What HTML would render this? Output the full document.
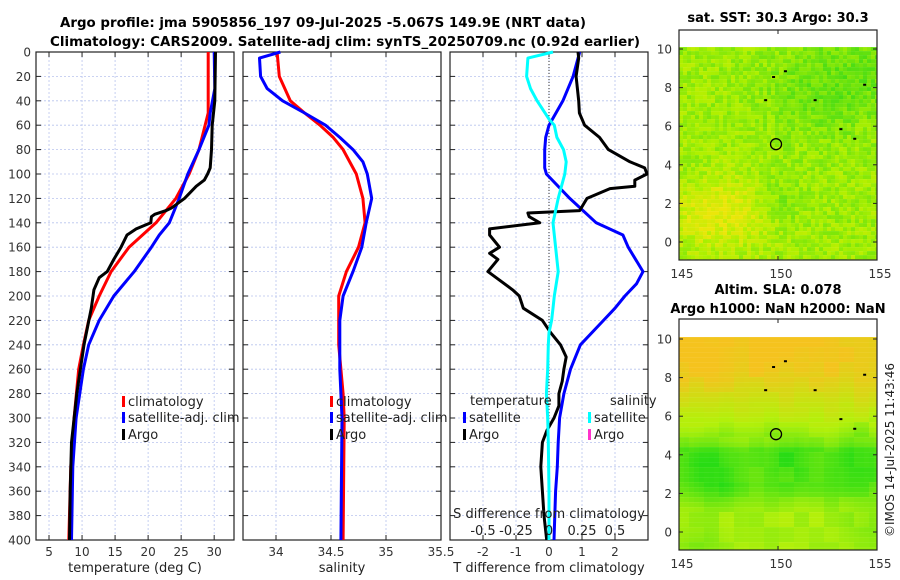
<!DOCTYPE html>
<html><head><meta charset="utf-8"><style>
html,body{margin:0;padding:0;background:#fff;}
svg{display:block;font-family:"DejaVu Sans","Liberation Sans",sans-serif;}
</style></head><body>
<svg id="c" width="900" height="580" viewBox="0 0 900 580" xmlns="http://www.w3.org/2000/svg">
<text x="323" y="27" font-size="13" font-weight="bold" text-anchor="middle" textLength="526" lengthAdjust="spacingAndGlyphs">Argo profile: jma 5905856_197 09-Jul-2025 -5.067S 149.9E (NRT data)</text>
<text x="345" y="46" font-size="13" font-weight="bold" text-anchor="middle" textLength="590" lengthAdjust="spacingAndGlyphs">Climatology: CARS2009. Satellite-adj clim: synTS_20250709.nc (0.92d earlier)</text>
<text x="778" y="22" font-size="13" font-weight="bold" text-anchor="middle">sat. SST: 30.3 Argo: 30.3</text>
<text x="778" y="294" font-size="13" font-weight="bold" text-anchor="middle">Altim. SLA: 0.078</text>
<text x="778" y="313" font-size="13" font-weight="bold" text-anchor="middle">Argo h1000: NaN h2000: NaN</text>
<text transform="translate(894,450) rotate(-90)" font-size="12" text-anchor="middle" fill="#222">©IMOS 14-Jul-2025 11:43:46</text>
<g id="plots"></g>
</svg>
<script>
// ---- data ----
const depthTicks=[0,20,40,60,80,100,120,140,160,180,200,220,240,260,280,300,320,340,360,380,400];
const tTicks=[5,10,15,20,25,30];
const sTicks=[34,34.5,35,35.5];
const dTTicks=[-2,-1,0,1,2];
const dSTickLabels=["-0.5","-0.25","0","0.25","0.5"];
const dSTicks=[-0.5,-0.25,0,0.25,0.5];
// temperature
const tClimDepth=[0,50,80,100,120,140,160,180,200,220,240,260,300,340,400];
const tClim=[29.1,29.1,27.7,26.2,24.2,21.2,17.1,14.4,12.6,11,10.2,9.5,8.8,8.3,8.0];
const tSatDepth=[0,30,50,60,80,100,120,140,150,160,180,200,220,240,260,300,340,400];
const tSat=[30,30.1,29.4,29.2,27.7,26,24.7,23.2,21.7,20.5,17.9,14.8,12.6,11,10.2,9.1,8.6,8.4];
const tArgoDepth=[0,40,60,80,95,100,105,110,120,128,130,133,135,140,145,150,160,170,180,185,195,210,240,280,320,360,400];
const tArgo=[30.2,30.1,29.7,29.6,29.4,29.0,28.5,27.3,25.5,23.5,22.7,21,20.5,20.4,18.2,16.8,15.9,14.8,13.8,12.6,11.8,11.4,10.3,9.2,8.4,8.2,8.1];
// salinity
const sClimDepth=[0,20,40,50,60,70,80,100,120,140,160,180,200,240,280,300,400];
const sClim=[34.01,34.03,34.13,34.26,34.4,34.52,34.61,34.73,34.79,34.81,34.75,34.64,34.57,34.57,34.61,34.62,34.61];
const sSatDepth=[0,5,20,30,40,50,60,70,80,90,100,120,140,160,180,200,220,260,300,400];
const sSat=[34.04,33.85,33.86,33.92,34.06,34.26,34.45,34.58,34.7,34.79,34.83,34.87,34.82,34.78,34.7,34.61,34.58,34.58,34.6,34.59];
// differences
const dTSatDepth=[0,20,40,60,70,80,95,100,120,140,150,160,180,190,200,210,220,240,260,280,300,320,340,360,400];
const dTSat=[0.93,0.73,0.42,0,-0.1,-0.13,-0.13,-0.08,0.63,1.43,2.24,2.4,2.85,2.65,2.3,2.0,1.65,0.95,0.65,0.45,0.32,0.28,0.25,0.2,0.15];
const dTArgoDepth=[0,5,20,40,50,60,70,80,90,95,100,105,110,112,120,125,130,132,135,140,145,150,160,165,170,180,185,195,200,210,220,230,240,250,260,270,280,290,300,310,320,340,360,380,400];
const dTArgo=[0.88,0.9,0.82,0.9,0.92,1.08,1.53,1.8,2.45,2.9,2.97,2.6,2.6,1.85,1.15,1.04,0.93,-0.64,-0.6,-0.28,-1.8,-1.8,-1.5,-1.8,-1.55,-1.85,-1.6,-1.1,-0.9,-0.78,-0.2,0.05,0.35,0.52,0.45,0.4,0.3,0.3,0.15,-0.06,-0.2,-0.25,-0.2,-0.15,-0.07];
const dSSatDepth=[0,5,20,30,40,55,60,70,80,90,100,120,140,160,180,200,210,220,230,240,260,280,300,320,360,400];
const dSSat=[0.03,-0.16,-0.17,-0.14,-0.09,0,0.04,0.06,0.11,0.13,0.12,0.07,0.03,0.05,0.07,0.04,0.03,0.02,0,-0.005,-0.01,-0.02,-0.01,-0.005,0,0];

const NS="http://www.w3.org/2000/svg";
const G=document.getElementById('plots');
function mk(tag,attrs,parent){const e=document.createElementNS(NS,tag);for(const k in attrs)e.setAttribute(k,attrs[k]);(parent||G).appendChild(e);return e;}
const Y0=52,Y1=540;
const yD=d=>Y0+(d-0)*(Y1-Y0)/400;

function panel(name,x0,x1,vmin,vmax,xt,xtl,showY){
  const g=mk('g',{});
  
  
  const xs=v=>x0+(v-vmin)*(x1-x0)/(vmax-vmin);
  depthTicks.forEach(d=>{
    const l=mk('line',{x1:x0,x2:x1,y1:yD(d),y2:yD(d),stroke:'#b8c4ee','stroke-width':0.8,'stroke-dasharray':'2,2'},g);
    
    
    mk('line',{x1:x0,x2:x0+5,y1:yD(d),y2:yD(d),stroke:'#222'},g);
    mk('line',{x1:x1-5,x2:x1,y1:yD(d),y2:yD(d),stroke:'#222'},g);
    if(showY){const t=mk('text',{x:x0-5,y:yD(d)+4.5,'font-size':12,'text-anchor':'end',fill:'#333'},g);t.textContent=d;
      
      }
  });
  xt.forEach((v,i)=>{
    mk('line',{x1:xs(v),x2:xs(v),y1:Y0,y2:Y1,stroke:'#b8c4ee','stroke-width':0.8,'stroke-dasharray':'2,2'},g);
    mk('line',{x1:xs(v),x2:xs(v),y1:Y1,y2:Y1-5,stroke:'#222'},g);
    mk('line',{x1:xs(v),x2:xs(v),y1:Y0,y2:Y0+5,stroke:'#222'},g);
    const t=mk('text',{x:xs(v),y:556,'font-size':12,'text-anchor':'middle',fill:'#333'},g);t.textContent=xtl[i];
    
    
  });
  mk('rect',{x:x0,y:Y0,width:x1-x0,height:Y1-Y0,fill:'none',stroke:'#222','stroke-width':1.2},g);
  return {g,xs};
}
function line(p,vals,deps,color,name,xs){
  const pts=vals.map((v,i)=>xs(v).toFixed(1)+','+yD(deps[i]).toFixed(1)).join(' ');
  const e=mk('polyline',{points:pts,fill:'none',stroke:color,'stroke-width':3,'stroke-linejoin':'round'},p.g);
  
  
}
function txt(p,x,y,s,name,anchor,size){const t=mk('text',{x:x,y:y,'font-size':size||12,'text-anchor':anchor||'start',fill:'#222'},p.g);t.textContent=s;
  
  return t;}
function leg(p,x,y,color,s,name){
  const r=mk('rect',{x:x,y:y-9,width:3,height:11,fill:color},p.g);
  
  
  txt(p,x+6,y+1,s,name,'start',13);
}

// panel 1 temperature
const p1=panel('temperature-panel',36,234,3.03,33,tTicks,tTicks.map(String),true);
line(p1,tClim,tClimDepth,'#ff0000','climatology-temperature-line',p1.xs);
line(p1,tSat,tSatDepth,'#0000ff','satellite-temperature-line',p1.xs);
line(p1,tArgo,tArgoDepth,'#000000','argo-temperature-line',p1.xs);
txt(p1,135,572,'temperature (deg C)','temperature-axis-title','middle',13);
leg(p1,122,405,'#ff0000','climatology','legend-climatology');
leg(p1,122,421,'#0000ff','satellite-adj. clim','legend-satellite');
leg(p1,122,438,'#000000','Argo','legend-argo');

// panel 2 salinity
const p2=panel('salinity-panel',243,441,33.7,35.5,sTicks,sTicks.map(String),false);
line(p2,sClim,sClimDepth,'#ff0000','climatology-salinity-line',p2.xs);
line(p2,sSat,sSatDepth,'#0000ff','satellite-salinity-line',p2.xs);
txt(p2,342,572,'salinity','salinity-axis-title','middle',13);
leg(p2,330,405,'#ff0000','climatology','legend-s-climatology');
leg(p2,330,421,'#0000ff','satellite-adj. clim','legend-s-satellite');
leg(p2,330,438,'#000000','Argo','legend-s-argo');

// panel 3 differences
const p3=panel('difference-panel',450,648,-3,3,dTTicks,dTTicks.map(String),false);
const xsS=v=>p3.xs(v*4);
const zl=mk('line',{x1:p3.xs(0),x2:p3.xs(0),y1:Y0,y2:Y1,stroke:'#333','stroke-dasharray':'1,2'},p3.g);


line(p3,dTSat,dTSatDepth,'#0000ff','satellite-t-diff-line',p3.xs);
line(p3,dTArgo,dTArgoDepth,'#000000','argo-t-diff-line',p3.xs);
line(p3,dSSat,dSSatDepth,'#00ffff','satellite-s-diff-line',xsS);
txt(p3,549,572,'T difference from climatology','t-diff-axis-title','middle',13);
txt(p3,549,518,'S difference from climatology','s-diff-axis-title','middle',13);
dSTicks.forEach((v,i)=>{txt(p3,xsS(v),535,dSTickLabels[i],'s-diff-tick-label','middle',13);});
txt(p3,470,405,'temperature','legend-temperature-header','start',13);
txt(p3,610,405,'salinity','legend-salinity-header','start',13);
leg(p3,463,421,'#0000ff','satellite','legend-t-satellite');
leg(p3,463,438,'#000000','Argo','legend-t-argo');
leg(p3,588,421,'#00ffff','satellite','legend-s-satellite-diff');
leg(p3,588,438,'#ff33cc','Argo','legend-s-argo-diff');

// maps
function hash(i,j,s){let h=(i*374761393+j*668265263+s*982451653)|0;h=(h^(h>>>13))*1274126177|0;return ((h^(h>>>16))>>>0)/4294967296;}
function gs(x,y,cx,cy,sx,sy){return Math.exp(-((x-cx)*(x-cx))/(2*sx*sx)-((y-cy)*(y-cy))/(2*sy*sy));}
function lerpC(a,b,t){return a.map((v,i)=>Math.round(v+(b[i]-v)*t));}
function map(name,fx0,fy0,fx1,fy1,y10,y0,kind){
  const g=mk('g',{});
  
  
  const ys=v=>y0+(v)*(y10-y0)/10;
  const xs=v=>fx0+(v-145)*(fx1-fx0)/10;
  const top=ys(10.1),cs=kind===0?4:5;
  let ix=0;
  for(let y=top;y<fy1;y+=cs){ix++;let jx=0;for(let x=fx0;x<fx1;x+=cs){jx++;
    const lat=(y0-y)/(y0-y10)*10, lon=145+(x-fx0)/(fx1-fx0)*10;
    let c;
    if(kind===0){
      let v=0.5 + 0.45*gs(lon,lat,147,1.5,1.8,1.3) - 0.3*gs(lon,lat,152.5,8,2.2,1.8) - 0.2*gs(lon,lat,150,2.2,0.8,1) - 0.15*gs(lon,lat,155,9.5,1.5,1.5) + (hash(ix,jx,1)-0.5)*0.4;
      v=Math.max(0,Math.min(1,v));
      c=v<0.6?lerpC([70,220,20],[175,240,0],v/0.6):lerpC([175,240,0],[235,230,10],(v-0.6)/0.4);
    } else {
      let base;
      if(lat>8.5)base=0.92;else if(lat>6)base=0.55+(lat-6)/2.5*0.37;else if(lat>4.5)base=0.3+(lat-4.5)/1.5*0.25;else if(lat>2.5)base=0.2;else if(lat>1)base=0.2+(2.5-lat)/1.5*0.25;else base=0.45;
      let v=base - 0.2*gs(lon,lat,146.5,3.2,0.9,1.2) - 0.15*gs(lon,lat,150.3,4,0.8,0.9) - 0.15*gs(lon,lat,154,4,0.8,1.3) - 0.12*gs(lon,lat,154.5,0.5,0.8,0.8) - 0.1*gs(lon,lat,146,-0.5,1,0.6) + 0.12*gs(lon,lat,146,9.5,1.5,1.5) + 0.1*gs(lon,lat,150.5,10,1.3,1) + (hash(Math.floor(jx/3),Math.floor(ix/3),2)-0.5)*0.12;
      v=Math.max(0,Math.min(1,v));
      c=v<0.5?lerpC([40,220,20],[180,240,10],v/0.5):lerpC([180,240,10],[245,195,30],(v-0.5)/0.5);
    }
    mk('rect',{x:x,y:y,width:Math.min(cs,fx1-x),height:Math.min(cs,fy1-y),fill:`rgb(${c[0]},${c[1]},${c[2]})`},g);
  }}
  mk('rect',{x:fx0,y:fy0,width:fx1-fx0,height:fy1-fy0,fill:'none',stroke:'#222','stroke-width':1.2},g);
  [0,2,4,6,8,10].forEach(v=>{
    mk('line',{x1:fx0,x2:fx0+4,y1:ys(v),y2:ys(v),stroke:'#222'},g);
    mk('line',{x1:fx1-4,x2:fx1,y1:ys(v),y2:ys(v),stroke:'#222'},g);
    const t=mk('text',{x:fx0-7,y:ys(v)+4.5,'font-size':12,'text-anchor':'end',fill:'#333'},g);t.textContent=v;
    
    
  });
  [145,150,155].forEach(v=>{
    mk('line',{x1:xs(v),x2:xs(v),y1:fy1,y2:fy1-4,stroke:'#222'},g);
    mk('line',{x1:xs(v),x2:xs(v),y1:fy0,y2:fy0+4,stroke:'#222'},g);
    const t=mk('text',{x:xs(v)+3,y:fy1+18,'font-size':12,'text-anchor':'middle',fill:'#333'},g);t.textContent=v;
    
    
  });
  const c=mk('circle',{cx:xs(149.9),cy:ys(5.067),r:5.5,fill:'none',stroke:'#000','stroke-width':1.3},g);
  
  
  [[151.8,7.4],[149.7,8.6],[150.3,8.9],[154.3,8.2],[153.8,5.4],[149.3,7.4],[153.1,5.9]].forEach(p=>{
    mk('rect',{x:xs(p[0]),y:ys(p[1]),width:3,height:2,fill:'#000'},g);
  });
}
map('sst-map',679,30,877,260,49,242,0);
map('sla-map',679,319,877,550,339,532,1);
</script>
</body></html>
